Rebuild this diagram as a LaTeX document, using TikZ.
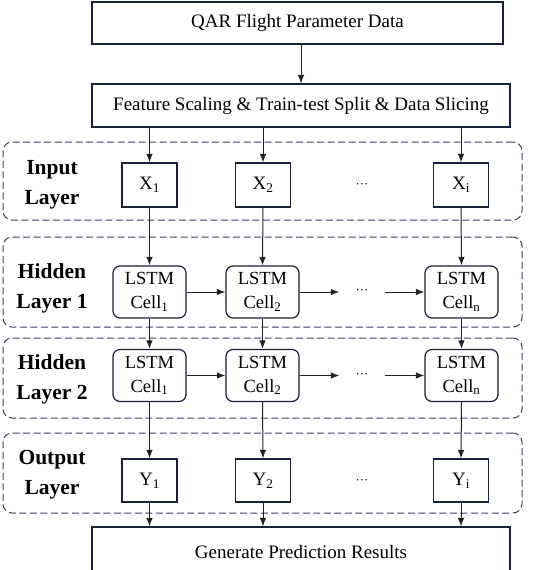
\documentclass[tikz,border=0pt]{standalone}
\usepackage{fontspec}
\setmainfont{Liberation Serif}
\usetikzlibrary{arrows.meta, positioning}
\definecolor{BoxInk}{HTML}{18203A}
\definecolor{FrameInk}{HTML}{34405F}
\definecolor{LineInk}{HTML}{222222}
\begin{document}
\begin{tikzpicture}[
    x=1pt, y=-1pt,
    font=\fontsize{19}{23}\selectfont,
    stage/.style={
      draw=BoxInk,
      line width=1.1pt,
      fill=white,
      inner sep=0pt,
    },
    unit/.style={
      draw=BoxInk,
      line width=1.2pt,
      fill=white,
      minimum width=55pt,
      minimum height=44pt,
      inner sep=0pt,
    },
    cell/.style={
      draw=BoxInk,
      line width=1.2pt,
      fill=white,
      rounded corners=7pt,
      minimum width=73pt,
      minimum height=52pt,
      inner sep=0pt,
      align=center,
      font=\fontsize{18.5}{24}\selectfont,
    },
    layer/.style={
      draw=FrameInk,
      line width=1pt,
      dash pattern=on 7pt off 3.5pt,
      rounded corners=9pt,
      minimum width=519pt,
      inner sep=0pt,
    },
    tag/.style={
      font=\fontsize{21.5}{30}\selectfont\bfseries,
      align=center,
    },
    gap/.style={
      minimum width=45pt,
      inner sep=0pt,
      font=\fontsize{13}{13}\selectfont,
    },
    flow/.style={
      draw=LineInk,
      line width=1pt,
      -{Latex[length=8.5pt,width=6.5pt]},
    },
  ]
    \useasboundingbox (0,0) rectangle (534,570);
    \clip (0,0) rectangle (534,570);

    \node[layer, minimum height=78pt] (inframe) at (262.5,181) {};
    \node[layer, minimum height=90pt] (hidframeA) at (262.5,282) {};
    \node[layer, minimum height=80pt] (hidframeB) at (262.5,378) {};
    \node[layer, minimum height=80pt] (outframe) at (262.5,473) {};

    \node[tag] (intag) at (52,185) {Input\\Layer};
    \node[tag] (hidtagA) at (52,288) {Hidden\\Layer 1};
    \node[tag] (hidtagB) at (52,379) {Hidden\\Layer 2};
    \node[tag] (outtag) at (52,475) {Output\\Layer};

    \node[stage, minimum width=411pt, minimum height=42pt] (qar) at (297.5,23) {QAR Flight Parameter Data};
    \node[stage, minimum width=418pt, minimum height=43pt] (prep) at (301,105.5) {Feature Scaling \& Train-test Split \& Data Slicing};
    \node[stage, minimum width=418pt, minimum height=50pt] (result) at (301,552) {Generate Prediction Results};

    \node[unit] (x1) at (149.5,185) {X\textsubscript{1}};
    \node[unit] (x2) at (263,185) {X\textsubscript{2}};
    \node[gap] (xdots) at (362,186) {···};
    \node[unit] (xi) at (461,185) {X\textsubscript{i}};

    \node[cell] (hA1) at (149.5,292) {LSTM\\Cell\textsubscript{1}};
    \node[cell] (hA2) at (262.5,292) {LSTM\\Cell\textsubscript{2}};
    \node[gap] (hAdots) at (362,292) {···};
    \node[cell] (hAn) at (461.5,292) {LSTM\\Cell\textsubscript{n}};

    \node[cell] (hB1) at (149.5,375.5) {LSTM\\Cell\textsubscript{1}};
    \node[cell] (hB2) at (262.5,375.5) {LSTM\\Cell\textsubscript{2}};
    \node[gap] (hBdots) at (362,375.5) {···};
    \node[cell] (hBn) at (461.5,375.5) {LSTM\\Cell\textsubscript{n}};

    \node[unit, minimum height=43pt] (y1) at (149.5,480.5) {Y\textsubscript{1}};
    \node[unit, minimum height=43pt] (y2) at (263,480.5) {Y\textsubscript{2}};
    \node[gap] (ydots) at (362,482) {···};
    \node[unit, minimum height=43pt] (yi) at (461,480.5) {Y\textsubscript{i}};

    \draw[flow] (qar.south -| prep.north) -- (prep.north);

    \draw[flow] (prep.south -| x1.north) -- (x1.north);
    \draw[flow] (prep.south -| x2.north) -- (x2.north);
    \draw[flow] (prep.south -| xi.north) -- (xi.north);

    \draw[flow] (x1.south) -- (hA1.north);
    \draw[flow] (x2.south) -- (hA2.north);
    \draw[flow] (xi.south) -- (hAn.north);

    \draw[flow] (hA1.east) -- (hA2.west);
    \draw[flow] (hA2.east) -- (hAdots.west);
    \draw[flow] (hAdots.east) -- (hAn.west);

    \draw[flow] (hA1.south) -- (hB1.north);
    \draw[flow] (hA2.south) -- (hB2.north);
    \draw[flow] (hAn.south) -- (hBn.north);

    \draw[flow] (hB1.east) -- (hB2.west);
    \draw[flow] (hB2.east) -- (hBdots.west);
    \draw[flow] (hBdots.east) -- (hBn.west);

    \draw[flow] (hB1.south) -- (y1.north);
    \draw[flow] (hB2.south) -- (y2.north);
    \draw[flow] (hBn.south) -- (yi.north);

    \draw[flow] (y1.south) -- (y1.south |- result.north);
    \draw[flow] (y2.south) -- (y2.south |- result.north);
    \draw[flow] (yi.south) -- (yi.south |- result.north);
  \end{tikzpicture}
\end{document}
